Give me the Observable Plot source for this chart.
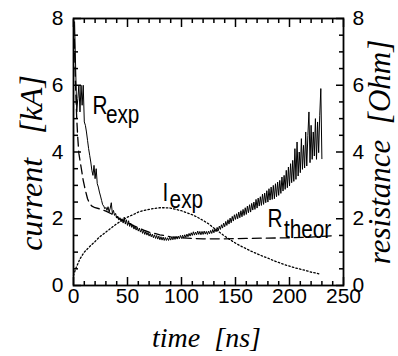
<!DOCTYPE html>
<html><head><meta charset="utf-8">
<script src="https://cdn.jsdelivr.net/npm/d3@7"></script>
<script src="https://cdn.jsdelivr.net/npm/@observablehq/plot@0.6"></script>
<style>body{margin:0;background:#fff} svg{display:block}</style>
</head><body><div id="chart"></div>
<script>
// tick values
const xMajorTicks = [0, 50, 100, 150, 200, 250];
const xMinorTicks = [10, 20, 30, 40, 60, 70, 80, 90, 110, 120, 130, 140, 160, 170, 180, 190, 210, 220, 230, 240];
const yMajorTicks = [0, 2, 4, 6, 8];
const yMinorTicks = [0.5, 1, 1.5, 2.5, 3, 3.5, 4.5, 5, 5.5, 6.5, 7, 7.5];

// R_exp (solid, noisy), sampled every 1 ns starting at t = 1 ns
const rExpStart = 1;
const rExpValues = [
 7.9, 6.5, 5.2, 5.6, 6.0, 5.2, 6.0, 5.4, 6.0, 4.9,
 4.8, 4.6, 4.35, 4.1, 3.9, 3.7, 3.45, 3.3, 3.6, 3.2,
 3.5, 3.05, 2.95, 2.8, 2.68, 2.55, 2.42, 2.38, 2.3, 2.34,
 2.25, 2.36, 2.2, 2.32, 2.48, 2.15, 2.25, 2.1, 2.16, 2.02,
 2.08, 1.96, 2.03, 1.92, 2.0, 1.87, 2.05, 1.84, 1.97, 1.8,
 1.94, 1.77, 1.87, 1.74, 1.82, 1.69, 1.77, 1.66, 1.74, 1.63,
 1.72, 1.6, 1.68, 1.56, 1.65, 1.53, 1.62, 1.51, 1.59, 1.48,
 1.56, 1.46, 1.54, 1.43, 1.52, 1.41, 1.5, 1.39, 1.48, 1.37,
 1.46, 1.36, 1.45, 1.35, 1.44, 1.35, 1.43, 1.35, 1.44, 1.36,
 1.45, 1.37, 1.46, 1.38, 1.47, 1.39, 1.48, 1.4, 1.5, 1.41,
 1.51, 1.42, 1.52, 1.44, 1.54, 1.46, 1.56, 1.48, 1.58, 1.5,
 1.61, 1.51, 1.6, 1.52, 1.63, 1.53, 1.62, 1.52, 1.62, 1.53,
 1.63, 1.54, 1.62, 1.53, 1.63, 1.55, 1.65, 1.56, 1.68, 1.58,
 1.7, 1.61, 1.74, 1.64, 1.78, 1.68, 1.82, 1.72, 1.87, 1.76,
 1.92, 1.8, 1.97, 1.84, 2.02, 1.88, 2.07, 1.93, 2.12, 1.98,
 2.15, 2.0, 2.2, 2.03, 2.24, 2.06, 2.28, 2.1, 2.33, 2.13,
 2.38, 2.18, 2.42, 2.2, 2.46, 2.26, 2.5, 2.28, 2.58, 2.32,
 2.62, 2.38, 2.66, 2.4, 2.74, 2.43, 2.77, 2.48, 2.84, 2.5,
 2.9, 2.56, 2.95, 2.58, 3.0, 2.6, 3.05, 2.66, 3.1, 2.7,
 3.15, 2.76, 3.25, 2.83, 3.3, 2.88, 3.45, 2.93, 3.55, 2.98,
 3.65, 3.08, 3.75, 3.12, 4.1, 3.18, 4.3, 3.28, 4.0, 3.38,
 4.4, 3.48, 4.2, 3.52, 4.6, 3.58, 4.5, 5.2, 3.68, 4.8,
 3.78, 4.6, 3.88, 5.0, 3.78, 4.9, 3.98, 5.1, 5.9, 3.8
];

// R_theor (dashed)
const rTheorT = [0.5, 1, 2, 3, 4, 5, 6, 7, 8, 9, 10, 11, 13, 15, 17, 20, 25, 30, 35, 40, 45, 50, 55, 60, 65, 70, 80, 90, 100, 110, 120, 140, 160, 180, 200, 220, 240];
const rTheorV = [7.8, 7.0, 5.9, 5.0, 4.4, 3.95, 3.75, 3.55, 3.35, 3.15, 3.0, 2.85, 2.6, 2.45, 2.38, 2.33, 2.29, 2.23, 2.15, 2.05, 1.96, 1.88, 1.8, 1.73, 1.66, 1.6, 1.52, 1.46, 1.43, 1.41, 1.4, 1.4, 1.41, 1.42, 1.43, 1.45, 1.49];

// I_exp (dotted)
const iExpT = [0, 2, 4, 6, 8, 10, 13, 16, 20, 24, 28, 32, 36, 40, 45, 50, 55, 60, 65, 70, 75, 80, 85, 90, 95, 100, 105, 110, 115, 120, 125, 130, 135, 140, 145, 150, 155, 160, 165, 170, 175, 180, 185, 190, 195, 200, 205, 210, 215, 220, 225, 229];
const iExpV = [0.3, 0.5, 0.65, 0.8, 0.9, 1.0, 1.1, 1.2, 1.32, 1.45, 1.55, 1.65, 1.75, 1.85, 1.95, 2.05, 2.12, 2.2, 2.25, 2.28, 2.31, 2.33, 2.33, 2.32, 2.28, 2.24, 2.18, 2.12, 2.04, 1.95, 1.85, 1.72, 1.6, 1.48, 1.37, 1.27, 1.18, 1.1, 1.02, 0.95, 0.88, 0.82, 0.75, 0.69, 0.63, 0.58, 0.53, 0.49, 0.45, 0.4, 0.37, 0.33];

// curve labels
const labelTexts = ["R", "exp", "I", "exp", "R", "theor"];
const labelT = [17.6, 30.0, 82.4, 89.0, 179.6, 194.8];
const labelV = [5.15, 4.88, 2.54, 2.33, 1.74, 1.41];

const xTitle = "time\u00a0\u00a0[ns]";
const yTitle = "current\u00a0\u00a0\u00a0[kA]";
const y2Title = "resistance\u00a0\u00a0[Ohm]";

const sans = "'Liberation Sans', Arial, Helvetica, sans-serif";
const serif = "'Liberation Serif', 'Times New Roman', serif";
const blank = () => "";

const chart = Plot.plot({
  width: 398, height: 356,
  marginLeft: 73, marginRight: 55, marginTop: 18, marginBottom: 71,
  x: {domain: [0, 250]},
  y: {domain: [0, 8]},
  style: {background: "#fff", color: "#000", fontFamily: sans},
  marks: [
    // inward ticks
    Plot.axisX({anchor: "bottom", ticks: xMinorTicks, tickSize: -4, tickFormat: blank, label: null, strokeWidth: 1.5}),
    Plot.axisX({anchor: "bottom", ticks: xMajorTicks, tickSize: -8, tickFormat: blank, label: null, strokeWidth: 1.5}),
    Plot.axisX({anchor: "top", ticks: xMinorTicks, tickSize: -4, tickFormat: blank, label: null, strokeWidth: 1.5}),
    Plot.axisX({anchor: "top", ticks: xMajorTicks, tickSize: -8, tickFormat: blank, label: null, strokeWidth: 1.5}),
    Plot.axisY({anchor: "left", ticks: yMinorTicks, tickSize: -5, tickFormat: blank, label: null, strokeWidth: 1.5}),
    Plot.axisY({anchor: "left", ticks: yMajorTicks, tickSize: -8, tickFormat: blank, label: null, strokeWidth: 1.5}),
    Plot.axisY({anchor: "right", ticks: yMinorTicks, tickSize: -5, tickFormat: blank, label: null, strokeWidth: 1.5}),
    Plot.axisY({anchor: "right", ticks: yMajorTicks, tickSize: -8, tickFormat: blank, label: null, strokeWidth: 1.5}),
    // tick labels
    Plot.axisX({anchor: "bottom", ticks: xMajorTicks, tickSize: 0, tickPadding: 3, label: null, fontSize: 21, fontFamily: sans}),
    Plot.axisY({anchor: "left", ticks: yMajorTicks, tickSize: 0, tickPadding: 10, label: null, fontSize: 21, fontFamily: sans}),
    Plot.axisY({anchor: "right", ticks: yMajorTicks, tickSize: 0, tickPadding: 9, label: null, fontSize: 21, fontFamily: sans}),
    Plot.frame({stroke: "#000", strokeWidth: 1.8}),
    // curves
    Plot.line(iExpV, {x: (d, i) => iExpT[i], y: d => d, stroke: "#000", strokeWidth: 1.3, strokeDasharray: "1.5,2.2"}),
    Plot.line(rTheorV, {x: (d, i) => rTheorT[i], y: d => d, stroke: "#000", strokeWidth: 1.3, strokeDasharray: "9,5"}),
    Plot.line(rExpValues, {x: (d, i) => rExpStart + i, y: d => d, stroke: "#000", strokeWidth: 1}),
    // curve labels
    Plot.text(labelTexts, {x: (d, i) => labelT[i], y: (d, i) => labelV[i], text: d => d, textAnchor: "start", lineAnchor: "bottom", fontSize: 26, fontFamily: sans, fill: "#000"}),
    // axis titles
    Plot.text([xTitle], {frameAnchor: "bottom", textAnchor: "middle", dy: 61, dx: -2, lineAnchor: "bottom", fontSize: 28, fontStyle: "italic", fontFamily: serif, fill: "#000"}),
    Plot.text([yTitle], {frameAnchor: "left", textAnchor: "middle", rotate: -90, dx: -32, dy: 11, lineAnchor: "bottom", fontSize: 32, fontStyle: "italic", fontFamily: serif, fill: "#000"}),
    Plot.text([y2Title], {frameAnchor: "right", textAnchor: "middle", rotate: -90, dx: 46, dy: 0, lineAnchor: "bottom", fontSize: 31, fontStyle: "italic", fontFamily: serif, fill: "#000"})
  ]
});
document.getElementById("chart").append(chart);

// condense the curve-label glyphs horizontally (the original uses a narrow sans face)
const labelSet = new Set(labelTexts);
d3.select(chart).selectAll("text").each(function() {
  if (labelSet.has(this.textContent)) {
    const w = this.getComputedTextLength();
    this.setAttribute("textLength", (w * 0.8).toFixed(1));
    this.setAttribute("lengthAdjust", "spacingAndGlyphs");
  }
});
</script>
</body></html>
